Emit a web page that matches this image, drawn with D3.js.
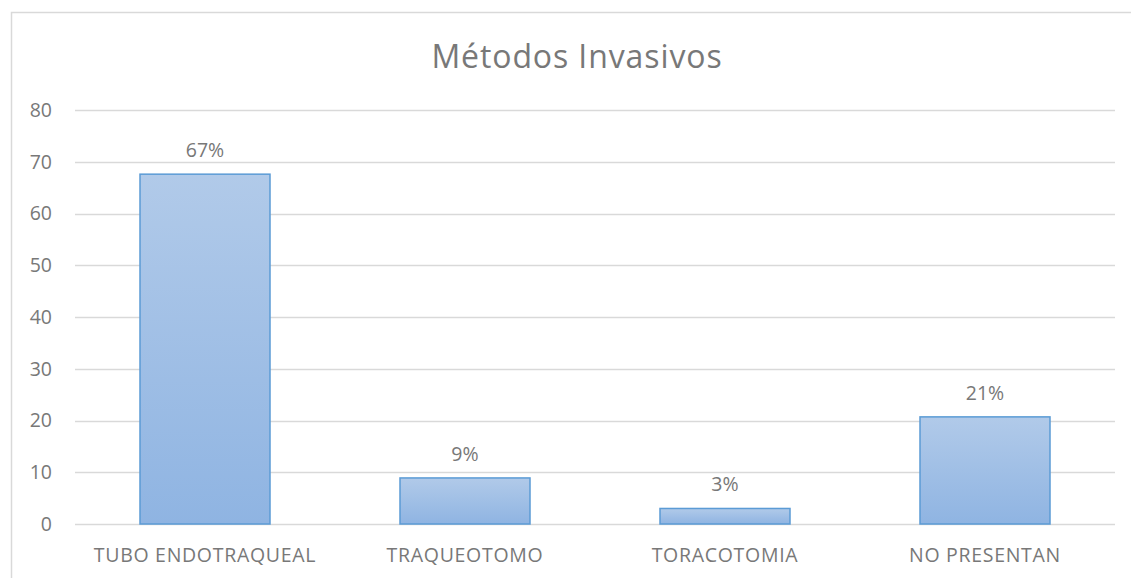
<!DOCTYPE html>
<html>
<head>
<meta charset="utf-8">
<script src="https://cdn.jsdelivr.net/npm/d3@7"></script>
<style>
  body { margin: 0; background: #fff; }
  text { font-family: "Open Sans", sans-serif; fill: #787878; }
</style>
</head>
<body>
<div id="chart"></div>
<script>
var width = 1131,
    height = 578;

var categories = ['TUBO ENDOTRAQUEAL', 'TRAQUEOTOMO', 'TORACOTOMIA', 'NO PRESENTAN'];
var values = [67.6, 8.9, 3.0, 20.7];
var labels = ['67%', '9%', '3%', '21%'];
var yTicks = [0, 10, 20, 30, 40, 50, 60, 70, 80];

var margin = {left: 75, right: 16, top: 110, bottom: 54};

var svg = d3.select('#chart').append('svg')
    .attr('width', width)
    .attr('height', height);

var defs = svg.append('defs');
var grad = defs.append('linearGradient')
    .attr('id', 'barGrad')
    .attr('x1', 0).attr('y1', 0).attr('x2', 0).attr('y2', 1);
grad.append('stop').attr('offset', '0%').attr('stop-color', '#b1cae9');
grad.append('stop').attr('offset', '100%').attr('stop-color', '#8fb4e2');

// chart frame, runs off right and bottom edges
svg.append('rect')
    .attr('x', 11.5).attr('y', 12.5)
    .attr('width', 1140).attr('height', 600)
    .attr('fill', 'none')
    .attr('stroke', '#d9d9d9')
    .attr('stroke-width', 1.5);

var x = d3.scaleBand()
    .domain(categories)
    .range([margin.left, width - margin.right])
    .paddingInner(0.5)
    .paddingOuter(0.25);

var y = d3.scaleLinear()
    .domain([0, 80])
    .range([height - margin.bottom, margin.top]);

// gridlines
svg.append('g')
  .selectAll('line')
  .data(yTicks)
  .enter().append('line')
    .attr('x1', margin.left)
    .attr('x2', width - margin.right)
    .attr('y1', function(d){ return Math.round(y(d)) + 0.5; })
    .attr('y2', function(d){ return Math.round(y(d)) + 0.5; })
    .attr('stroke', '#d9d9d9')
    .attr('stroke-width', 1.3);

// y labels
svg.append('g')
  .selectAll('text')
  .data(yTicks)
  .enter().append('text')
    .attr('x', 52)
    .attr('y', function(d){ return y(d); })
    .attr('dy', '0.35em')
    .attr('text-anchor', 'end')
    .style('font-size', '19.5px')
    .text(function(d){ return d; });

// bars
svg.append('g')
  .selectAll('rect')
  .data(values)
  .enter().append('rect')
    .attr('x', function(d, i){ return x(categories[i]); })
    .attr('y', function(d){ return y(d); })
    .attr('width', x.bandwidth())
    .attr('height', function(d){ return y(0) - y(d); })
    .attr('fill', 'url(#barGrad)')
    .attr('stroke', '#5b9bd5')
    .attr('stroke-width', 1.5);

// value labels
svg.append('g')
  .selectAll('text')
  .data(values)
  .enter().append('text')
    .attr('x', function(d, i){ return x(categories[i]) + x.bandwidth() / 2; })
    .attr('y', function(d){ return y(d) - 17; })
    .attr('text-anchor', 'middle')
    .style('font-size', '19.5px')
    .text(function(d, i){ return labels[i]; });

// category labels
svg.append('g')
  .selectAll('text')
  .data(categories)
  .enter().append('text')
    .attr('x', function(d){ return x(d) + x.bandwidth() / 2; })
    .attr('y', 562)
    .attr('text-anchor', 'middle')
    .style('font-size', '19.5px')
    .style('letter-spacing', '0.7px')
    .text(function(d){ return d; });

// title
svg.append('text')
    .attr('x', 577)
    .attr('y', 68)
    .attr('text-anchor', 'middle')
    .style('font-size', '32px')
    .style('letter-spacing', '0.9px')
    .text('Métodos Invasivos');
</script>
</body>
</html>
